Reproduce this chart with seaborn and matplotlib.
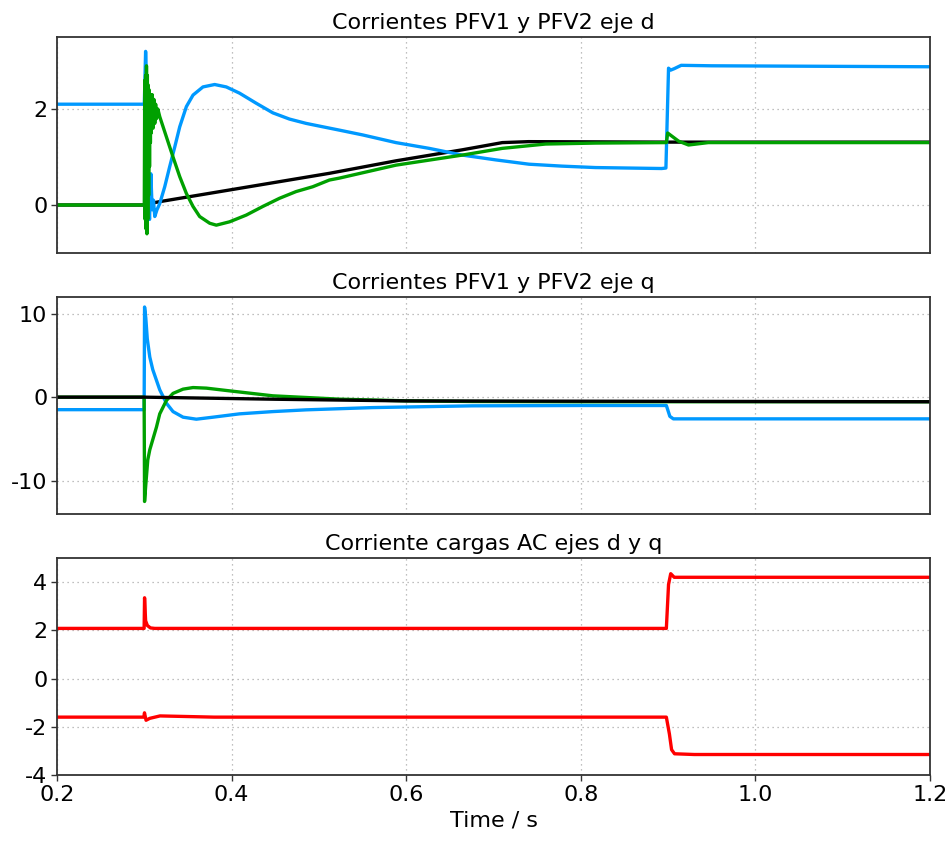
import numpy as np
import pandas as pd
import matplotlib
matplotlib.use("Agg")
import matplotlib.pyplot as plt
import seaborn as sns

# ---------------- data ----------------
# Panel 1: d-axis currents
d_blue_t = [0.2, 0.300, 0.3015, 0.303, 0.3045, 0.306, 0.3075, 0.309, 0.3105, 0.312, 0.3145,
            0.3177, 0.3234, 0.3291, 0.3349, 0.3406, 0.3482, 0.3558, 0.3672, 0.3806, 0.3939,
            0.4091, 0.4282, 0.4472, 0.4663, 0.4854, 0.5043, 0.5234, 0.5501, 0.5882, 0.6263,
            0.6643, 0.7025, 0.7406, 0.7783, 0.8168, 0.8926, 0.8975, 0.9005, 0.903, 0.907,
            0.915, 0.950, 1.2]
d_blue_v = [2.1, 2.1, 3.2, 2.4, 0.2, -0.3, 0.65, -0.1, 0.1, -0.24, -0.1,
            0.03, 0.38, 0.80, 1.21, 1.63, 2.05, 2.29, 2.46, 2.51, 2.46,
            2.33, 2.12, 1.92, 1.79, 1.70, 1.63, 1.56, 1.46, 1.30, 1.18,
            1.04, 0.94, 0.85, 0.81, 0.78, 0.76, 0.77, 2.85, 2.81, 2.84,
            2.91, 2.9, 2.88]

d_green_t = [0.2, 0.300, 0.3005, 0.301, 0.3015, 0.302, 0.3025, 0.303, 0.3035, 0.304, 0.3045,
             0.305, 0.3055, 0.306, 0.3065, 0.307, 0.3075, 0.308, 0.309, 0.310, 0.311, 0.312,
             0.313, 0.314, 0.3155, 0.3177, 0.3253, 0.3329, 0.3406, 0.3482, 0.3558, 0.3634,
             0.3749, 0.3825, 0.3977, 0.4168, 0.4358, 0.4549, 0.4739, 0.4929, 0.5120, 0.5234,
             0.5882, 0.6643, 0.7101, 0.7597, 0.8168, 0.8980, 0.8995, 0.9120, 0.9234, 0.946, 1.2]
d_green_v = [0.0, 0.0, 2.6, -0.3, 2.7, -0.5, 2.9, -0.6, 2.7, -0.3, 2.5,
             0.2, 2.4, 0.8, 2.3, 1.3, 2.2, 1.5, 2.3, 1.6, 2.2, 1.7,
             2.1, 1.8, 2.0, 1.84, 1.42, 1.0, 0.59, 0.24, -0.03, -0.24,
             -0.38, -0.42, -0.35, -0.21, -0.03, 0.14, 0.28, 0.38, 0.52, 0.56,
             0.83, 1.04, 1.18, 1.27, 1.29, 1.30, 1.5, 1.33, 1.25, 1.3, 1.3]

d_black_t = [0.2, 0.300, 0.303, 0.3177, 0.400, 0.512, 0.5882, 0.6643, 0.7101, 0.740, 0.900, 1.2]
d_black_v = [0.0, 0.0, 0.02, 0.07, 0.32, 0.66, 0.92, 1.15, 1.30, 1.32, 1.31, 1.31]

# Panel 2: q-axis currents
q_blue_t = [0.2, 0.2998, 0.3003, 0.3017, 0.3034, 0.3063, 0.3097, 0.3177, 0.3253, 0.3329,
            0.3444, 0.3596, 0.3787, 0.4091, 0.4472, 0.4854, 0.5615, 0.6754, 0.800, 0.898,
            0.902, 0.906, 1.2]
q_blue_v = [-1.5, -1.5, 10.8, 9.5, 7.0, 4.8, 3.3, 0.88, -0.72, -1.73,
            -2.4, -2.64, -2.4, -2.0, -1.73, -1.52, -1.25, -1.04, -1.0, -1.0,
            -2.3, -2.6, -2.6]

q_green_t = [0.2, 0.2998, 0.3003, 0.3017, 0.3040, 0.3063, 0.3139, 0.3177, 0.3215, 0.3253,
             0.3329, 0.3444, 0.3558, 0.3711, 0.3939, 0.4206, 0.4472, 0.4854, 0.5234, 0.5996,
             0.6754, 0.800, 1.2]
q_green_v = [0.0, 0.0, -12.5, -10.5, -7.5, -6.3, -3.6, -2.0, -1.2, -0.4,
             0.45, 0.96, 1.15, 1.08, 0.80, 0.48, 0.16, -0.04, -0.24, -0.44,
             -0.52, -0.55, -0.55]

q_black_t = [0.2, 0.300, 0.450, 0.600, 1.2]
q_black_v = [0.0, 0.0, -0.25, -0.45, -0.55]

# Panel 3: AC load currents d and q
ac_d_t = [0.2, 0.2998, 0.3003, 0.3015, 0.3035, 0.307, 0.312, 0.898, 0.9005, 0.903, 0.907, 0.920, 1.2]
ac_d_v = [2.08, 2.08, 3.35, 2.4, 2.2, 2.1, 2.08, 2.08, 3.9, 4.35, 4.2, 4.2, 4.2]

ac_q_t = [0.2, 0.2995, 0.3002, 0.302, 0.3063, 0.318, 0.380, 0.898, 0.9015, 0.904, 0.9074, 0.930, 1.2]
ac_q_v = [-1.6, -1.6, -1.42, -1.73, -1.65, -1.55, -1.6, -1.6, -2.3, -2.95, -3.12, -3.15, -3.15]

x_ticks = [0.2, 0.4, 0.6, 0.8, 1.0, 1.2]
x_tick_labels = ["0.2", "0.4", "0.6", "0.8", "1.0", "1.2"]

titles = ["Corrientes PFV1 y PFV2 eje d",
          "Corrientes PFV1 y PFV2 eje q",
          "Corriente cargas AC ejes d y q"]
xlabel = "Time / s"

BLUE = "#0099ff"
GREEN = "#00a000"
BLACK = "#000000"
RED = "#ff0000"

# ---------------- style ----------------
sns.set_theme(style="white")
plt.rcParams["font.family"] = ["DejaVu Sans"]
plt.rcParams["axes.unicode_minus"] = False
for key in ["text.color", "axes.labelcolor", "xtick.color", "ytick.color"]:
    plt.rcParams[key] = "black"

W, H = 949, 843
fig = plt.figure(figsize=(W / 100, H / 100), dpi=100)

def box(top, bottom, left=57, right=930):
    return [left / W, 1 - bottom / H, (right - left) / W, (bottom - top) / H]

ax1 = fig.add_axes(box(37, 253))
ax2 = fig.add_axes(box(297, 514))
ax3 = fig.add_axes(box(558, 775))

def series(t, v):
    return pd.DataFrame({"t": t, "v": v})

LW = 2.4
kw = dict(x="t", y="v", sort=False, estimator=None, linewidth=LW)

# panel 1
sns.lineplot(data=series(d_black_t, d_black_v), color=BLACK, ax=ax1, **kw)
sns.lineplot(data=series(d_blue_t, d_blue_v), color=BLUE, ax=ax1, **kw)
sns.lineplot(data=series(d_green_t, d_green_v), color=GREEN, ax=ax1, **kw)
# panel 2
sns.lineplot(data=series(q_blue_t, q_blue_v), color=BLUE, ax=ax2, **kw)
sns.lineplot(data=series(q_green_t, q_green_v), color=GREEN, ax=ax2, **kw)
sns.lineplot(data=series(q_black_t, q_black_v), color=BLACK, ax=ax2, **kw)
# panel 3
sns.lineplot(data=series(ac_d_t, ac_d_v), color=RED, ax=ax3, **kw)
sns.lineplot(data=series(ac_q_t, ac_q_v), color=RED, ax=ax3, **kw)

ylims = [(-1, 3.5), (-14, 12), (-4, 5)]
yticks = [[0, 2], [-10, 0, 10], [-4, -2, 0, 2, 4]]

TICK_FS = 16
TITLE_FS = 16

for ax, title, yl, yt in zip([ax1, ax2, ax3], titles, ylims, yticks):
    ax.set_xlim(0.2, 1.2)
    ax.set_ylim(*yl)
    ax.set_yticks(yt)
    ax.set_yticklabels([str(v) for v in yt])
    ax.set_xticks(x_ticks)
    ax.set_title(title, fontsize=TITLE_FS, pad=6, color="black")
    ax.set_xlabel("")
    ax.set_ylabel("")
    ax.grid(True, color="#aaaaaa", linestyle=(0, (1, 3)), linewidth=0.9)
    for s in ax.spines.values():
        s.set_color("#333333")
        s.set_linewidth(1.3)
    ax.tick_params(axis="y", which="both", left=True, length=4, width=1, color="#333333",
                   labelsize=TICK_FS, pad=3, direction="out")
    ax.tick_params(axis="x", bottom=False, labelbottom=False)

ax3.set_xticklabels(x_tick_labels)
ax3.tick_params(axis="x", bottom=True, labelbottom=True, length=4, width=1,
                color="#333333", labelsize=TICK_FS, pad=3, direction="out")
ax3.set_xlabel(xlabel, fontsize=TITLE_FS, labelpad=4)

fig.savefig("out.png", dpi=100)
